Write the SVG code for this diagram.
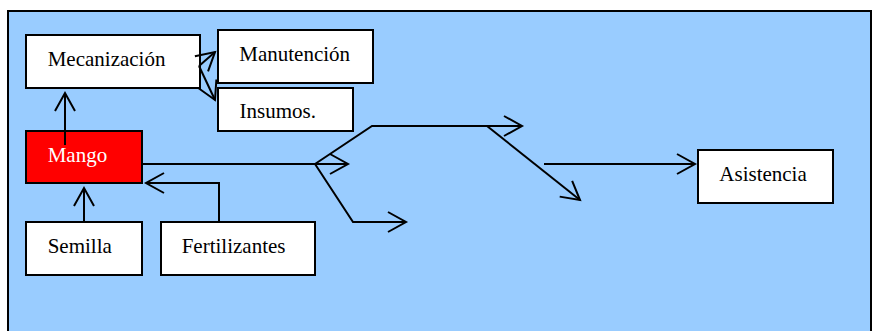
<svg xmlns="http://www.w3.org/2000/svg" width="880" height="331" viewBox="0 0 880 331">
<style>
.box{fill:#fff;stroke:#000;stroke-width:2}
.lbl{font-family:"Liberation Serif","Times New Roman",serif;font-size:21px;fill:#000}
.con{fill:none;stroke:#000;stroke-width:2;marker-end:url(#arr)}
.plain{fill:none;stroke:#000;stroke-width:2}
</style>
<defs>
<marker id="arr" markerUnits="userSpaceOnUse" markerWidth="30" markerHeight="30" refX="20" refY="12" orient="auto" viewBox="0 0 30 30" overflow="visible">
<path d="M2,2 L20,12 L2,22" fill="none" stroke="#000" stroke-width="2"/>
</marker>
</defs>
<rect x="0" y="0" width="880" height="331" fill="#fff"/>
<rect id="frame" x="8" y="11" width="863" height="340" fill="#99CCFF" stroke="#000" stroke-width="2"/>
<g id="mecanizacion"><rect class="box" x="26" y="35" width="174" height="53"/><text class="lbl" x="47.7" y="66">Mecanización</text></g>
<g id="manutencion"><rect class="box" x="218" y="30" width="155" height="53"/><text class="lbl" x="239.3" y="61">Manutención</text></g>
<g id="insumos"><rect class="box" x="218" y="88" width="135" height="43"/><text class="lbl" x="239.5" y="118">Insumos.</text></g>
<g id="mango"><rect x="26" y="131" width="116" height="52" fill="#FF0000" stroke="#000" stroke-width="2"/><text class="lbl" x="47.7" y="162" style="fill:#fff">Mango</text></g>
<g id="semilla"><rect class="box" x="26" y="222" width="116" height="53"/><text class="lbl" x="47.7" y="253">Semilla</text></g>
<g id="fertilizantes"><rect class="box" x="161" y="222" width="154" height="53"/><text class="lbl" x="181.7" y="253">Fertilizantes</text></g>
<g id="asistencia"><rect class="box" x="698" y="150" width="135" height="53"/><text class="lbl" x="719.3" y="181">Asistencia</text></g>
<g id="connectors">
<path class="con" d="M65,145 L65,93"/>
<path class="con" d="M199,66 L215,52"/>
<path class="con" d="M199,66 L215,100"/>
<path class="con" d="M84,222 L84,188"/>
<path class="con" d="M219,222 L219,183 L146,183"/>
<path class="con" d="M142,164 L348,164"/>
<path class="con" d="M315,164 L372,126 L522,126"/>
<path class="con" d="M315,164 L353,222 L406,222"/>
<path class="con" d="M487,126 L580,200"/>
<path class="con" d="M544,164 L695,164"/>
</g>
</svg>
